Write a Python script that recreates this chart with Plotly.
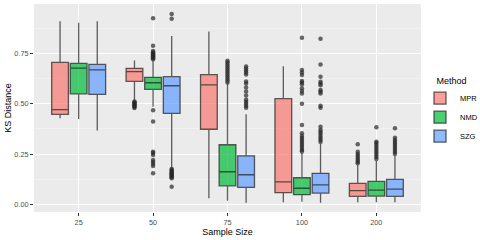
import plotly.graph_objects as go

sizes = ["25", "50", "75", "100", "200"]
methods = ["MPR", "NMD", "SZG"]
colors = ["rgba(248,118,109,0.7)", "rgba(0,186,56,0.7)", "rgba(97,156,255,0.7)"]

lower = {
    "MPR": [0.427, 0.520, 0.030, 0.010, 0.010],
    "NMD": [0.424, 0.485, 0.018, 0.013, 0.010],
    "SZG": [0.367, 0.180, 0.008, 0.008, 0.010],
}
q1 = {
    "MPR": [0.447, 0.611, 0.373, 0.058, 0.040],
    "NMD": [0.549, 0.571, 0.092, 0.048, 0.041],
    "SZG": [0.546, 0.452, 0.084, 0.056, 0.040],
}
median = {
    "MPR": [0.470, 0.659, 0.593, 0.112, 0.068],
    "NMD": [0.677, 0.604, 0.162, 0.080, 0.071],
    "SZG": [0.668, 0.589, 0.147, 0.097, 0.076],
}
q3 = {
    "MPR": [0.705, 0.675, 0.644, 0.525, 0.104],
    "NMD": [0.700, 0.631, 0.296, 0.132, 0.114],
    "SZG": [0.695, 0.634, 0.241, 0.154, 0.124],
}
upper = {
    "MPR": [0.909, 0.715, 0.859, 0.686, 0.195],
    "NMD": [0.902, 0.715, 0.600, 0.255, 0.215],
    "SZG": [0.909, 0.836, 0.448, 0.300, 0.240],
}
outliers = {
    "MPR": [
        [],
        [0.478, 0.483, 0.488, 0.492, 0.497, 0.502, 0.507, 0.511],
        [],
        [],
        [0.204, 0.212, 0.22, 0.23, 0.24, 0.25, 0.261, 0.298],
    ],
    "NMD": [
        [],
        [0.72, 0.725, 0.73, 0.735, 0.74, 0.745, 0.75, 0.755, 0.762, 0.788, 0.924,
         0.467, 0.412, 0.261, 0.255, 0.245, 0.22, 0.21, 0.2, 0.19, 0.154],
        [0.605, 0.615, 0.625, 0.635, 0.645, 0.655, 0.665, 0.675, 0.685, 0.695, 0.705, 0.713],
        [0.262, 0.27, 0.28, 0.29, 0.30, 0.31, 0.32, 0.33, 0.34, 0.353, 0.394,
         0.50, 0.551, 0.563, 0.576, 0.596, 0.605, 0.613, 0.643, 0.655, 0.667, 0.828],
        [0.225, 0.235, 0.245, 0.255, 0.265, 0.275, 0.285, 0.295, 0.305, 0.311, 0.383],
    ],
    "SZG": [
        [],
        [0.922, 0.945, 0.175, 0.17, 0.165, 0.16, 0.155, 0.15, 0.145, 0.14, 0.135, 0.13, 0.087],
        [0.48, 0.49, 0.50, 0.51, 0.52, 0.54, 0.56, 0.58, 0.60, 0.61, 0.645, 0.655, 0.665, 0.675, 0.684],
        [0.31, 0.32, 0.33, 0.34, 0.35, 0.36, 0.37, 0.385, 0.48, 0.49, 0.551, 0.56, 0.568,
         0.592, 0.60, 0.609, 0.634, 0.695, 0.823],
        [0.25, 0.26, 0.27, 0.28, 0.29, 0.30, 0.31, 0.32, 0.331, 0.378],
    ],
}

y_ticks = [0.0, 0.25, 0.5, 0.75]
y_tick_labels = ["0.00", "0.25", "0.50", "0.75"]

GAP = 0.25

fig = go.Figure()
for m, c in zip(methods, colors):
    fig.add_trace(go.Box(
        name=m,
        legendgroup=m,
        offsetgroup=m,
        x=sizes,
        q1=q1[m], median=median[m], q3=q3[m],
        lowerfence=lower[m], upperfence=upper[m],
        boxpoints=False,
        fillcolor=c,
        line=dict(color="rgba(35,35,35,0.72)", width=1.3),
        whiskerwidth=0,
    ))
for m in methods:
    xs, ys = [], []
    for s, pts in zip(sizes, outliers[m]):
        for v in pts:
            xs.append(s)
            ys.append(v)
    fig.add_trace(go.Scatter(
        x=xs, y=ys, mode="markers",
        name=m, legendgroup=m, offsetgroup=m, showlegend=False,
        marker=dict(color="rgba(40,40,40,0.7)", size=4.5, line=dict(width=0)),
    ))

fig.update_layout(
    width=480, height=240,
    margin=dict(l=34, r=59, t=4, b=28, autoexpand=False),
    paper_bgcolor="white",
    plot_bgcolor="#EBEBEB",
    hovermode=False,
    boxmode="group",
    boxgap=GAP,
    boxgroupgap=0.1,
    scattermode="group",
    scattergap=GAP,
    font=dict(family="Liberation Sans, Arial, sans-serif", color="black"),
    legend=dict(
        title=dict(text="Method", font=dict(size=9, color="black"), side="top center"),
        xref="container", yref="container",
        x=0.875, y=0.7, xanchor="left", yanchor="top",
        font=dict(size=7.5, color="black"),
        bgcolor="rgba(0,0,0,0)",
        itemwidth=30,
        tracegroupgap=0,
    ),
    xaxis=dict(
        type="category",
        range=[-0.6, 4.6],
        automargin=False,
        showgrid=True, gridcolor="white", gridwidth=1,
        ticks="outside", ticklen=3, tickcolor="#333333",
        tickfont=dict(size=7.3, color="#4D4D4D"),
        title=dict(text="Sample Size", font=dict(size=9, color="black"), standoff=2),
        zeroline=False,
    ),
    yaxis=dict(
        range=[-0.038, 0.995],
        automargin=False,
        tickvals=y_ticks, ticktext=y_tick_labels,
        showgrid=True, gridcolor="white", gridwidth=1,
        ticks="outside", ticklen=3, tickcolor="#333333",
        tickfont=dict(size=7.3, color="#4D4D4D"),
        title=dict(text="KS Distance", font=dict(size=9, color="black"), standoff=1),
        zeroline=False,
        minor=dict(tickvals=[0.125, 0.375, 0.625, 0.875], showgrid=True,
                   gridcolor="rgba(255,255,255,0.55)", gridwidth=0.6),
    ),
)

fig.write_html("out.html", config={"staticPlot": True, "displayModeBar": False},
               post_script="document.body.style.margin='0';")
